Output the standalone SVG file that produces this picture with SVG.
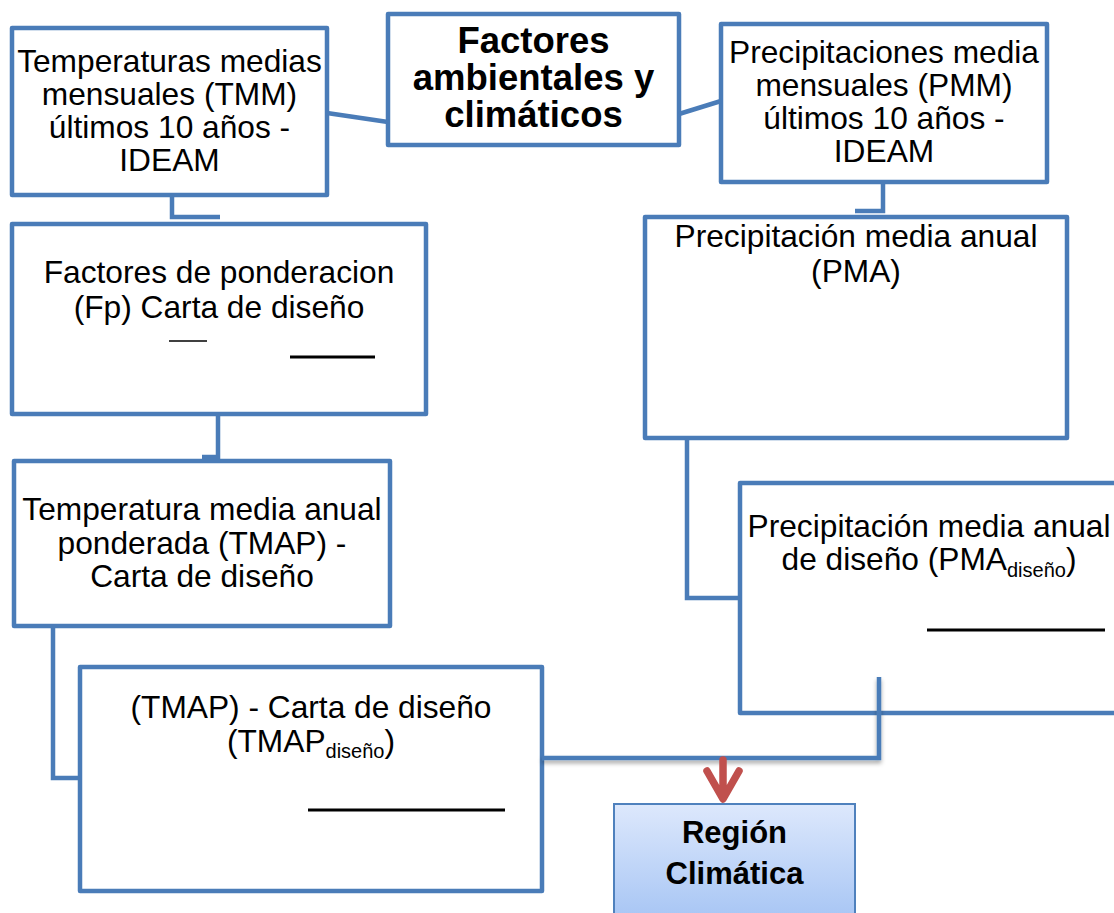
<svg xmlns="http://www.w3.org/2000/svg" width="1114" height="913" viewBox="0 0 1114 913">
<defs>
<linearGradient id="gReg" x1="0" y1="0" x2="0" y2="1">
<stop offset="0" stop-color="#DDE8FC"/>
<stop offset="1" stop-color="#A5C4F4"/>
</linearGradient>
<filter id="sh" x="-10%" y="-50%" width="120%" height="300%">
<feDropShadow dx="0" dy="3" stdDeviation="2" flood-color="#000" flood-opacity="0.35"/>
</filter>
</defs>
<style>
.box{fill:#fff;stroke:#4A7CB8;stroke-width:4.5;stroke-linejoin:round}
.c{fill:none;stroke:#4A7CB8;stroke-width:4.5;stroke-linejoin:miter;stroke-linecap:butt}
.t{font-family:"Liberation Sans",Arial,sans-serif;font-size:31.7px;fill:#000;text-anchor:middle}
.b{font-family:"Liberation Sans",Arial,sans-serif;font-weight:bold;fill:#000;text-anchor:middle}
.sub{font-size:20px}
.rule{stroke:#000;stroke-width:3}
.thin{stroke:#000;stroke-width:1.5}
</style>
<rect width="1114" height="913" fill="#fff"/>
<g id="n-tmm">
<rect class="box" x="12" y="28" width="315" height="167"/>
<text class="t"><tspan x="169.5" y="72">Temperaturas medias</tspan><tspan x="169.5" y="105">mensuales (TMM)</tspan><tspan x="169.5" y="138">últimos 10 años -</tspan><tspan x="169.5" y="171">IDEAM</tspan></text>
</g>
<g id="n-factores">
<rect class="box" x="388" y="14" width="291" height="131"/>
<text class="b" font-size="36.5px"><tspan x="533.5" y="53">Factores</tspan><tspan x="533.5" y="90">ambientales y</tspan><tspan x="533.5" y="127">climáticos</tspan></text>
</g>
<g id="n-pmm">
<rect class="box" x="721" y="24" width="326" height="158"/>
<text class="t"><tspan x="884" y="62.5">Precipitaciones media</tspan><tspan x="884" y="95.5">mensuales (PMM)</tspan><tspan x="884" y="128.5">últimos 10 años -</tspan><tspan x="884" y="161.5">IDEAM</tspan></text>
</g>
<g id="n-fp">
<rect class="box" x="12" y="224" width="414" height="190"/>
<text class="t"><tspan x="219" y="283">Factores de ponderacion</tspan><tspan x="219" y="318">(Fp) Carta de diseño</tspan></text>
<line class="thin" x1="169" y1="341" x2="207" y2="341"/>
<line class="rule" x1="290" y1="357" x2="375" y2="357"/>
</g>
<g id="n-pma">
<rect class="box" x="645" y="217" width="422" height="221"/>
<text class="t"><tspan x="856" y="247">Precipitación media anual</tspan><tspan x="856" y="282">(PMA)</tspan></text>
</g>
<g id="n-tmap">
<rect class="box" x="14" y="461" width="376" height="165"/>
<text class="t"><tspan x="202" y="520">Temperatura media anual</tspan><tspan x="202" y="553.5">ponderada (TMAP) -</tspan><tspan x="202" y="587">Carta de diseño</tspan></text>
</g>
<g id="n-pmad">
<rect class="box" x="740" y="483" width="380" height="230"/>
<text class="t"><tspan x="929" y="537">Precipitación media anual</tspan></text>
<text class="t" x="929" y="570">de diseño (PMA<tspan class="sub" dy="7">diseño</tspan><tspan dy="-7">)</tspan></text>
<line class="rule" x1="927" y1="630" x2="1105" y2="630"/>
</g>
<g id="n-tmapd">
<rect class="box" x="80" y="667" width="462" height="224"/>
<text class="t" x="311" y="718">(TMAP) - Carta de diseño</text>
<text class="t" x="311" y="752">(TMAP<tspan class="sub" dy="6">diseño</tspan><tspan dy="-6">)</tspan></text>
<line class="rule" x1="308" y1="810" x2="505" y2="810"/>
</g>
<g id="n-region">
<rect x="614" y="804" width="241" height="120" fill="url(#gReg)" stroke="#4F81BD" stroke-width="2"/>
<text class="b" font-size="31px"><tspan x="734.5" y="843">Región</tspan><tspan x="734.5" y="884">Climática</tspan></text>
</g>
<g id="connectors">
<path class="c" d="M327,113 L388,122"/>
<path class="c" d="M679,114 L721,101"/>
<path class="c" d="M172,195 V217 H220"/>
<path class="c" d="M883,182 V211 H855"/>
<path class="c" d="M218,414 V457 H202"/>
<path class="c" d="M687,438 V598 H740"/>
<path class="c" d="M53,626 V778 H80"/>
<path class="c" d="M542,758 H879 V677" filter="url(#sh)"/>
<path d="M723,760 V798 M707,771 L723,799 L739,771" fill="none" stroke="#C0504D" stroke-width="7.5" stroke-linecap="round" stroke-linejoin="round"/>
</g>
</svg>
